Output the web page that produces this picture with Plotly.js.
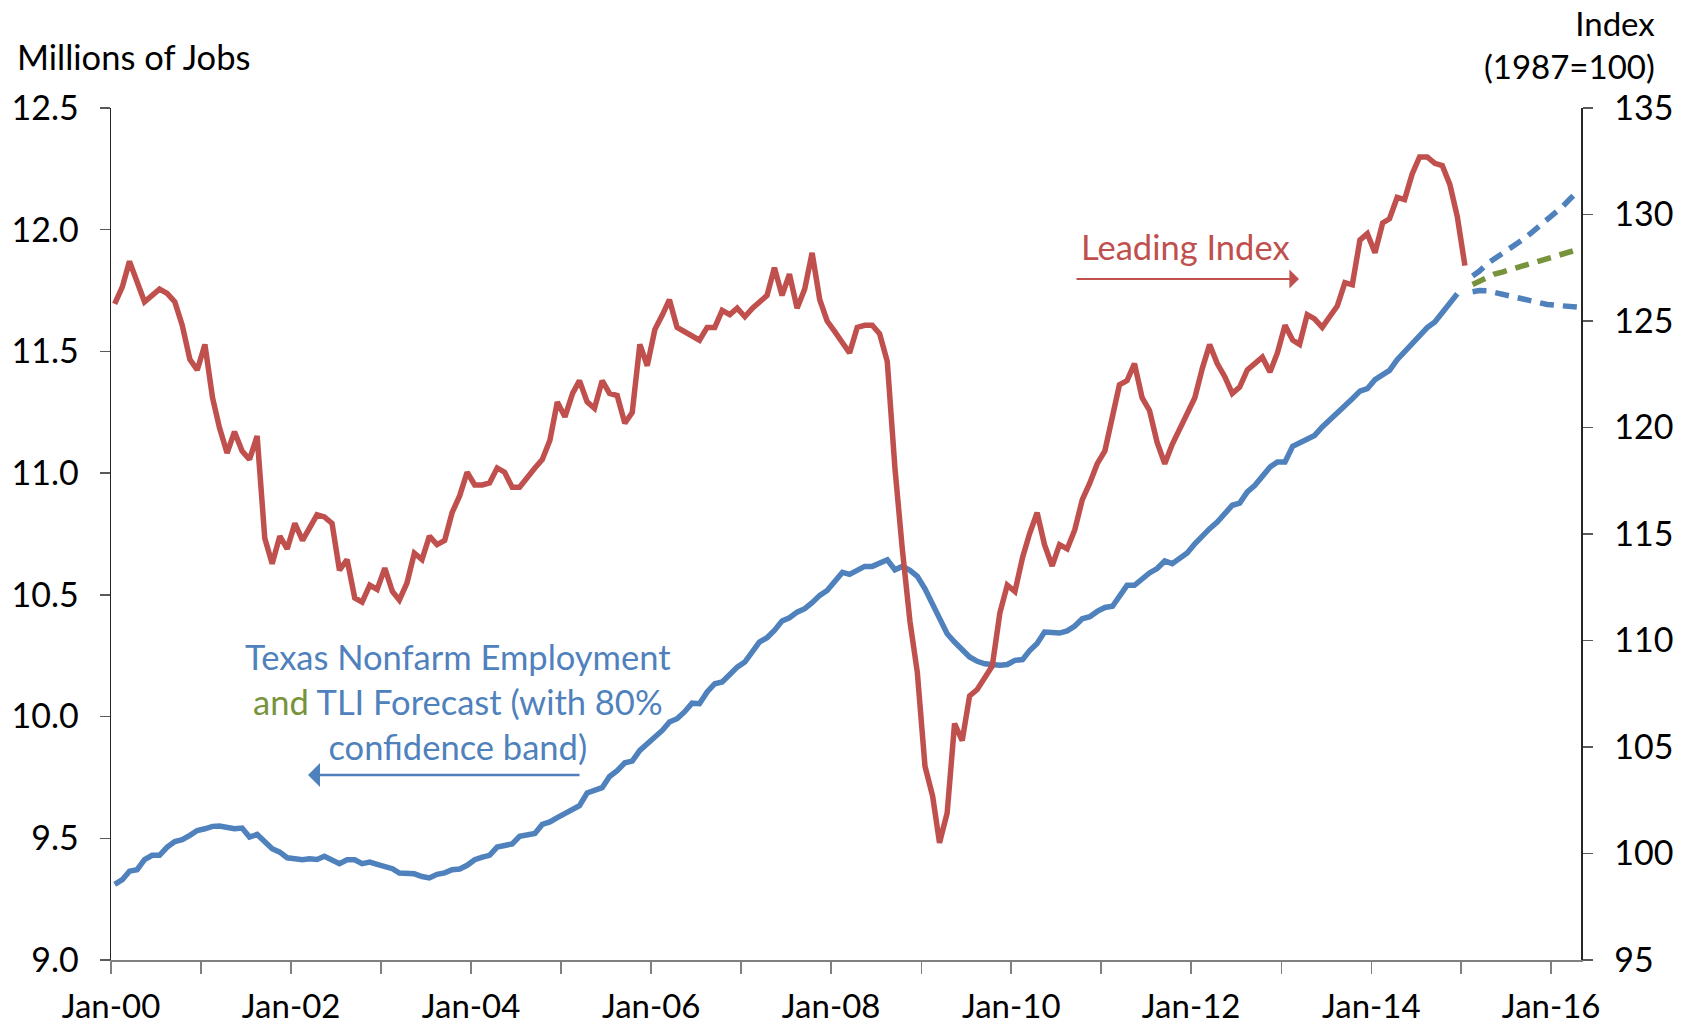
<!DOCTYPE html>
<html>
<head>
<meta charset="utf-8">
<script src="https://cdn.plot.ly/plotly-3.0.1.min.js"></script>
<style>
  html, body { margin: 0; padding: 0; background: #ffffff; }
  #chart { width: 1690px; height: 1025px; }
</style>
</head>
<body>
<div id="chart"></div>
<script>
// Texas Leading Index (1987=100), monthly from Jan 2000 to Jan 2015
const tliStart = [2000, 1];
const tliIndex = [
  125.8,126.6,127.8,126.9,125.9,126.2,126.5,126.3,125.9,124.8,
  123.2,122.7,123.9,121.4,120.0,118.8,119.8,118.9,118.5,119.6,
  114.8,113.6,114.9,114.3,115.5,114.7,115.3,115.9,115.8,115.5,
  113.3,113.8,112.0,111.8,112.6,112.4,113.4,112.3,111.9,112.7,
  114.1,113.8,114.9,114.5,114.7,116.0,116.8,117.9,117.3,117.3,
  117.4,118.1,117.9,117.2,117.2,117.7,118.1,118.5,119.4,121.2,
  120.5,121.6,122.2,121.2,120.9,122.2,121.6,121.5,120.2,120.7,
  123.9,122.9,124.6,125.3,126.0,124.7,124.5,124.3,124.1,124.7,
  124.7,125.5,125.3,125.6,125.2,125.6,125.9,126.2,127.5,126.2,
  127.2,125.6,126.5,128.2,126.0,125.0,124.5,124.0,123.5,124.7,
  124.8,124.8,124.4,123.1,118.1,114.3,110.9,108.5,104.1,102.7,
  100.5,101.9,106.1,105.3,107.4,107.7,108.3,108.8,111.3,112.6,
  112.3,113.9,115.0,116.0,114.5,113.5,114.5,114.3,115.2,116.6,
  117.4,118.3,118.9,120.4,122.0,122.2,123.0,121.4,120.8,119.3,
  118.3,119.2,119.9,120.7,121.4,122.8,123.9,123.0,122.4,121.6,
  121.9,122.7,123.0,123.3,122.6,123.5,124.8,124.1,123.9,125.3,
  125.1,124.7,125.2,125.7,126.8,126.7,128.8,129.1,128.2,129.6,
  129.8,130.8,130.7,131.9,132.7,132.7,132.4,132.3,131.4,129.9,
  127.6
];

// Texas nonfarm employment (millions of jobs), monthly from Jan 2000 to Dec 2014
const empStart = [2000, 1];
const employment = [
  9.311,9.330,9.365,9.371,9.412,9.430,9.430,9.464,9.487,9.494,
  9.512,9.532,9.539,9.549,9.550,9.543,9.539,9.542,9.505,9.516,
  9.489,9.457,9.443,9.420,9.416,9.412,9.416,9.413,9.426,9.409,
  9.396,9.412,9.412,9.396,9.402,9.393,9.386,9.375,9.357,9.357,
  9.354,9.343,9.337,9.352,9.358,9.371,9.374,9.389,9.412,9.423,
  9.430,9.464,9.470,9.477,9.508,9.514,9.520,9.557,9.567,9.585,
  9.601,9.616,9.634,9.686,9.694,9.708,9.754,9.778,9.810,9.817,
  9.861,9.888,9.919,9.944,9.978,9.991,10.019,10.055,10.053,10.101,
  10.135,10.142,10.173,10.203,10.224,10.267,10.306,10.324,10.354,10.393,
  10.406,10.429,10.443,10.468,10.498,10.518,10.553,10.592,10.584,10.601,
  10.617,10.617,10.631,10.644,10.603,10.617,10.601,10.576,10.525,10.457,
  10.395,10.340,10.306,10.277,10.245,10.227,10.217,10.214,10.211,10.214,
  10.231,10.234,10.270,10.300,10.347,10.345,10.343,10.352,10.372,10.402,
  10.410,10.432,10.448,10.453,10.498,10.539,10.539,10.566,10.590,10.608,
  10.639,10.628,10.649,10.672,10.710,10.745,10.772,10.799,10.834,10.868,
  10.877,10.923,10.950,10.984,11.025,11.046,11.046,11.110,11.124,11.138,
  11.155,11.190,11.217,11.244,11.274,11.306,11.337,11.347,11.384,11.406,
  11.422,11.466,11.500,11.535,11.570,11.598,11.621,11.658,11.695,11.737
];

// TLI employment forecast with 80% confidence band, Feb 2015 to Apr 2016
const fcStart = [2015, 2];
const fcUpper = [11.81,11.83,11.86,11.88,11.90,11.92,11.945,11.965,11.99,12.015,12.04,12.07,12.095,12.125,12.155];
const fcMid   = [11.775,11.79,11.805,11.818,11.826,11.835,11.84,11.849,11.858,11.868,11.877,11.886,11.895,11.906,11.918];
const fcLower = [11.745,11.75,11.749,11.742,11.735,11.727,11.718,11.71,11.704,11.698,11.693,11.69,11.687,11.684,11.682];

const xTickText = ['Jan-00','Jan-02','Jan-04','Jan-06','Jan-08','Jan-10','Jan-12','Jan-14','Jan-16'];

function monthDates(start, n) {
  const out = [];
  for (let i = 0; i < n; i++) {
    const k = start[1] - 1 + i;
    const y = start[0] + Math.floor(k / 12);
    const m = (k % 12) + 1;
    out.push(y + '-' + String(m).padStart(2, '0') + '-16');
  }
  return out;
}

const RED = '#C0504D', BLUE = '#4F81BD', GREEN = '#77933C';
const FONT = 'Lato, "Open Sans", sans-serif';
const LW = 5.5;

const traces = [
  { x: monthDates(empStart, employment.length), y: employment, type: 'scatter', mode: 'lines',
    line: { color: BLUE, width: LW }, yaxis: 'y', hoverinfo: 'skip' },
  { x: monthDates(fcStart, fcUpper.length), y: fcUpper, type: 'scatter', mode: 'lines',
    line: { color: BLUE, width: LW, dash: '14px,9px' }, yaxis: 'y', hoverinfo: 'skip' },
  { x: monthDates(fcStart, fcLower.length), y: fcLower, type: 'scatter', mode: 'lines',
    line: { color: BLUE, width: LW, dash: '14px,9px' }, yaxis: 'y', hoverinfo: 'skip' },
  { x: monthDates(fcStart, fcMid.length), y: fcMid, type: 'scatter', mode: 'lines',
    line: { color: GREEN, width: LW, dash: '14px,9px' }, yaxis: 'y', hoverinfo: 'skip' },
  { x: monthDates(tliStart, tliIndex.length), y: tliIndex, type: 'scatter', mode: 'lines',
    line: { color: RED, width: LW }, yaxis: 'y2', hoverinfo: 'skip' }
];

// plot area in pixels: left 111, right 1581, top 108, bottom 960
const L = 111, R = 1581, T = 108, B = 960;
const px = X => (X - L) / (R - L);
const py = Y => (B - Y) / (B - T);

const yTickFont = { family: FONT, size: 34, color: '#000000' };
const xTickFont = { family: FONT, size: 33, color: '#000000' };

const layout = {
  width: 1690, height: 1025,
  margin: { l: L, r: 1690 - R, t: T, b: 1025 - B, pad: 0 },
  paper_bgcolor: '#ffffff', plot_bgcolor: '#ffffff',
  showlegend: false,
  font: { family: FONT, color: '#000000' },
  xaxis: {
    type: 'date', range: ['2000-01-01', '2016-05-01'],
    tickmode: 'array',
    tickvals: ['2000-01-01','2002-01-01','2004-01-01','2006-01-01','2008-01-01','2010-01-01','2012-01-01','2014-01-01','2016-01-01'],
    ticktext: xTickText,
    ticks: 'outside', ticklen: 12, tickwidth: 1.5, tickcolor: '#808080',
    minor: { tickmode: 'linear', tick0: '2001-01-01', dtick: 'M24', ticks: 'outside', ticklen: 12, tickwidth: 1.5, tickcolor: '#808080', showgrid: false },
    showline: true, linecolor: '#808080', linewidth: 2,
    showgrid: false, zeroline: false, tickfont: xTickFont, ticklabelstandoff: 4,
    fixedrange: true
  },
  yaxis: {
    range: [9, 12.5], tickmode: 'linear', tick0: 9, dtick: 0.5, tickformat: '.1f',
    ticks: 'outside', ticklen: 10, tickwidth: 1.5, tickcolor: '#595959',
    showline: true, linecolor: '#262626', linewidth: 1.5,
    showgrid: false, zeroline: false, tickfont: yTickFont, ticklabelstandoff: 14
  },
  yaxis2: {
    range: [95, 135], tickmode: 'linear', tick0: 95, dtick: 5,
    overlaying: 'y', side: 'right',
    ticks: 'outside', ticklen: 10, tickwidth: 1.5, tickcolor: '#595959',
    showline: true, linecolor: '#262626', linewidth: 1.5,
    showgrid: false, zeroline: false, tickfont: yTickFont, ticklabelstandoff: 15
  },
  annotations: [
    { text: 'Millions of Jobs', xref: 'paper', yref: 'paper', x: px(15), y: py(57),
      xanchor: 'left', yanchor: 'middle', showarrow: false,
      font: { family: FONT, size: 34.5, color: '#000000' } },
    { text: 'Index<br>(1987=100)', xref: 'paper', yref: 'paper', x: px(1657), y: py(45),
      xanchor: 'right', yanchor: 'middle', align: 'right', showarrow: false,
      font: { family: FONT, size: 33, color: '#000000' } },
    { text: 'Leading Index', xref: 'paper', yref: 'paper', x: px(1185), y: py(247),
      xanchor: 'center', yanchor: 'middle', showarrow: false,
      font: { family: FONT, size: 34.5, color: RED } },
    { text: '', xref: 'paper', yref: 'paper', x: px(1299), y: py(279),
      showarrow: true, axref: 'pixel', ayref: 'pixel', ax: -(1299 - 1075), ay: 0,
      arrowhead: 1, arrowsize: 1.6, arrowwidth: 2, arrowcolor: RED, standoff: 0, startstandoff: 0 },
    { text: 'Texas Nonfarm Employment<br><span style="color:' + GREEN + '">and</span> TLI Forecast (with 80%<br>confidence band)',
      xref: 'paper', yref: 'paper', x: px(458), y: py(701),
      xanchor: 'center', yanchor: 'middle', align: 'center', showarrow: false,
      font: { family: FONT, size: 34.5, color: BLUE } },
    { text: '', xref: 'paper', yref: 'paper', x: px(308), y: py(775),
      showarrow: true, axref: 'pixel', ayref: 'pixel', ax: (581 - 308), ay: 0,
      arrowhead: 1, arrowsize: 1.6, arrowwidth: 2.5, arrowcolor: BLUE, standoff: 0, startstandoff: 0 }
  ]
};

Plotly.newPlot('chart', traces, layout, { staticPlot: true, displayModeBar: false });
</script>
</body>
</html>
